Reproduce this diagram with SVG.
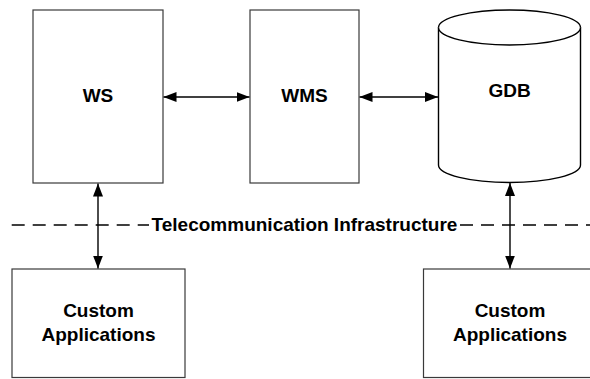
<svg xmlns="http://www.w3.org/2000/svg" width="590" height="379" viewBox="0 0 590 379">
<defs>
<marker id="ah" viewBox="0 0 13 10" refX="13" refY="5" markerWidth="13" markerHeight="10" markerUnits="userSpaceOnUse" orient="auto-start-reverse">
<path d="M0,0 L13,5 L0,10 Z" fill="#000"/>
</marker>
<style>
.box{fill:#fff;stroke:#3a3a3a;stroke-width:1.2}
.cyl{fill:#fff;stroke:#000;stroke-width:1.4}
.lbl{font-family:"Liberation Sans",Arial,sans-serif;font-weight:bold;font-size:19px;fill:#000;text-anchor:middle}
.conn{stroke:#000;stroke-width:1.4;fill:none;marker-start:url(#ah);marker-end:url(#ah)}
.dash{stroke:#000;stroke-width:1.3;fill:none;stroke-dasharray:13 8}
</style>
</defs>
<rect width="590" height="379" fill="#fff"/>
<g id="ws">
<rect class="box" x="33" y="10" width="130" height="173"/>
<text class="lbl" x="98" y="102">WS</text>
</g>
<g id="wms">
<rect class="box" x="250" y="10" width="109" height="173"/>
<text class="lbl" x="304.5" y="102">WMS</text>
</g>
<g id="gdb">
<path class="cyl" d="M438.5,27.5 L438.5,165 A71,17.5 0 0 0 580.5,165 L580.5,27.5 A71,17.5 0 0 0 438.5,27.5 Z"/>
<path class="cyl" fill="none" d="M438.5,27.5 A71,17.5 0 0 0 580.5,27.5"/>
<text class="lbl" x="509.5" y="97">GDB</text>
</g>
<g id="telecom">
<path class="dash" d="M11.7,225 H149"/>
<path class="dash" d="M460,225 H590"/>
<text class="lbl" x="304.5" y="231">Telecommunication Infrastructure</text>
</g>
<g id="app1">
<rect class="box" x="12" y="269" width="173" height="108.5"/>
<text class="lbl" x="98.5" y="317">Custom</text>
<text class="lbl" x="98.5" y="341">Applications</text>
</g>
<g id="app2">
<rect class="box" x="423.5" y="269" width="173" height="108.5"/>
<text class="lbl" x="510" y="317">Custom</text>
<text class="lbl" x="510" y="341">Applications</text>
</g>
<g id="connectors">
<line class="conn" x1="163.5" y1="97" x2="249.5" y2="97"/>
<line class="conn" x1="359.5" y1="97" x2="438" y2="97"/>
<line class="conn" x1="98" y1="183.5" x2="98" y2="268.5"/>
<line class="conn" x1="510" y1="183" x2="510" y2="268.5"/>
</g>
</svg>
